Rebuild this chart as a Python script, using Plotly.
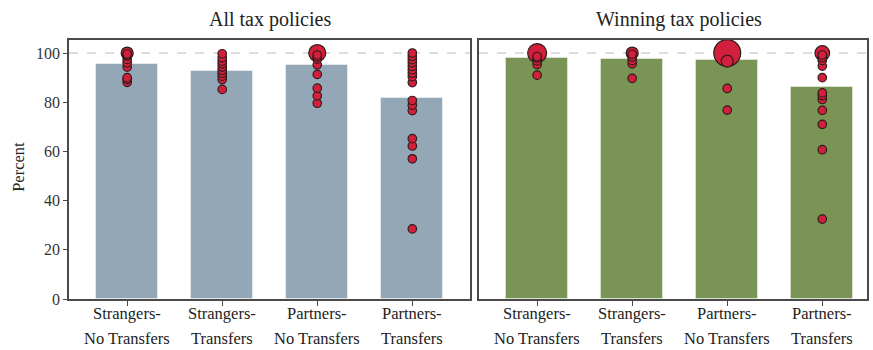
import numpy as np
import plotly.graph_objects as go
from plotly.subplots import make_subplots

categories = ["Strangers-No Transfers", "Strangers-Transfers", "Partners-No Transfers", "Partners-Transfers"]
label_line1 = ["Strangers-", "Strangers-", "Partners-", "Partners-"]
label_line2 = ["No Transfers", "Transfers", "No Transfers", "Transfers"]
panel_titles = ["All tax policies", "Winning tax policies"]
y_ticks = [0, 20, 40, 60, 80, 100]

# Bar heights (percent)
bars_all = [95.6, 92.7, 95.0, 81.8]
bars_win = [97.8, 97.4, 97.3, 86.1]

# Individual points: values and counts (count -> dot area)
all_sn_vals = [100, 99.6, 99.2, 98.8, 97.4, 96.0, 94.3, 90.0, 89.3, 88.1]
all_sn_cnt = [2, 1, 1, 1, 1, 1, 1, 1, 1, 1]
all_st_vals = [99.7, 98.1, 96.7, 95.6, 94.3, 93.0, 91.8, 90.6, 89.2, 85.2]
all_st_cnt = [1, 1, 1, 1, 1, 1, 1, 1, 1, 1]
all_pn_vals = [100, 99.2, 98.4, 97.5, 95.2, 91.3, 85.7, 82.6, 79.6]
all_pn_cnt = [4, 1, 1, 1, 1, 1, 1, 1, 1]
all_pt_vals = [100, 98.7, 97.3, 96.0, 94.6, 93.2, 91.8, 90.4, 88.0, 80.7, 78.8, 76.6, 65.2, 62.2, 57.0, 28.5]
all_pt_cnt = [1] * 16

win_sn_vals = [100, 98.6, 98.0, 96.8, 95.3, 91.0]
win_sn_cnt = [5, 1, 1, 1, 1, 1]
win_st_vals = [100, 99.5, 98.4, 97.0, 95.6, 89.7]
win_st_cnt = [2, 1, 1, 1, 1, 1]
win_pn_vals = [100, 96.7, 85.6, 76.8]
win_pn_cnt = [10, 2, 1, 1]
win_pt_vals = [100, 99.2, 98.1, 97.0, 94.7, 90.0, 83.8, 82.7, 81.1, 76.7, 71.0, 60.7, 32.5]
win_pt_cnt = [3, 1, 1, 1, 1, 1, 1, 1, 1, 1, 1, 1, 1]

points_all = [(all_sn_vals, all_sn_cnt), (all_st_vals, all_st_cnt), (all_pn_vals, all_pn_cnt), (all_pt_vals, all_pt_cnt)]
points_win = [(win_sn_vals, win_sn_cnt), (win_st_vals, win_st_cnt), (win_pn_vals, win_pn_cnt), (win_pt_vals, win_pt_cnt)]

SERIF = "Liberation Serif, Times New Roman, serif"
BLUE = "#93A7B7"
GREEN = "#799455"
DOT = "#D21F3C"
DOT_EDGE = "#2E1C1C"
FRAME = "#4A4A4A"

W, H = 873, 350
ML, MR, MT, MB = 69, 4, 40, 51
PW = W - ML - MR
PH = H - MT - MB

fig = make_subplots(rows=1, cols=2, horizontal_spacing=0.01)

xpos = list(range(len(categories)))

for col, (bars, pts, color) in enumerate([(bars_all, points_all, BLUE), (bars_win, points_win, GREEN)], start=1):
    fig.add_trace(go.Bar(x=xpos, y=bars, width=0.65, marker=dict(color=color, line=dict(color="rgba(255,255,255,0.45)", width=1)),
                         showlegend=False), row=1, col=col)
    for i, (vals, cnts) in enumerate(pts):
        order = np.argsort(cnts, kind="stable")[::-1]
        v = [vals[k] for k in order]
        c = [cnts[k] for k in order]
        fig.add_trace(go.Scatter(x=[xpos[i]] * len(v), y=v, mode="markers",
                                 marker=dict(color=DOT, opacity=1, size=[8.5 * np.sqrt(n) for n in c],
                                             line=dict(color=DOT_EDGE, width=1.2)),
                                 showlegend=False), row=1, col=col)

# domains
left_dom = [0, 402.5 / PW]
right_dom = [(480 - ML) / PW, 1.0]
unit = 402.5 / 4.224
right_span = (right_dom[1] - right_dom[0]) * PW / unit

axis_common = dict(showline=True, linecolor=FRAME, linewidth=1.5, mirror=True, showgrid=False, zeroline=False)
fig.update_xaxes(**axis_common, tickmode="array", tickvals=xpos, ticktext=[""] * 4, ticks="outside",
                 ticklen=5, tickcolor=FRAME, tickwidth=1)
fig.update_layout(
    xaxis=dict(domain=left_dom, range=[-0.612, 3.612]),
    xaxis2=dict(domain=right_dom, range=[-0.612, -0.612 + right_span]),
)
fig.update_yaxes(**axis_common, range=[0, 105.3])
fig.update_layout(
    yaxis=dict(tickmode="array", tickvals=y_ticks, ticks="outside", ticklen=4, tickcolor=FRAME,
               tickfont=dict(family=SERIF, size=16, color="#333333")),
    yaxis2=dict(showticklabels=False, ticks=""),
)

for xr in ["x", "x2"]:
    fig.add_shape(type="line", xref=f"{xr} domain", yref=xr.replace("x", "y"), x0=0, x1=1, y0=100, y1=100,
                  line=dict(color="#BBBBBB", width=1, dash="dash"), layer="below")

annotations = []
# panel titles
title_x = [(270.5 - ML) / PW, (681 - ML) / PW]
for t, tx in zip(panel_titles, title_x):
    annotations.append(dict(text=t, x=tx, y=1 + (MT - 20) / PH, xref="paper", yref="paper", showarrow=False,
                            xanchor="center", yanchor="middle", font=dict(family=SERIF, size=20, color="#222222")))
# category labels
for xr in ["x", "x2"]:
    for i in xpos:
        annotations.append(dict(text=label_line1[i], x=i, xref=xr, y=-(313 - (H - MB)) / PH - 0, yref="paper",
                                showarrow=False, xanchor="center", yanchor="middle",
                                font=dict(family=SERIF, size=16.5, color="#222222")))
        annotations.append(dict(text=label_line2[i], x=i, xref=xr, y=-(338 - (H - MB)) / PH, yref="paper",
                                showarrow=False, xanchor="center", yanchor="middle",
                                font=dict(family=SERIF, size=16.5, color="#222222")))
# y axis title
annotations.append(dict(text="Percent", x=(19 - ML) / PW, y=1 - (166.7 - MT) / PH, xref="paper", yref="paper",
                        showarrow=False, textangle=-90, xanchor="center", yanchor="middle",
                        font=dict(family=SERIF, size=16.5, color="#222222")))

fig.update_layout(annotations=annotations, width=W, height=H, margin=dict(l=ML, r=MR, t=MT, b=MB),
                  plot_bgcolor="white", paper_bgcolor="white", bargap=0, showlegend=False)

fig.write_html("out.html")
